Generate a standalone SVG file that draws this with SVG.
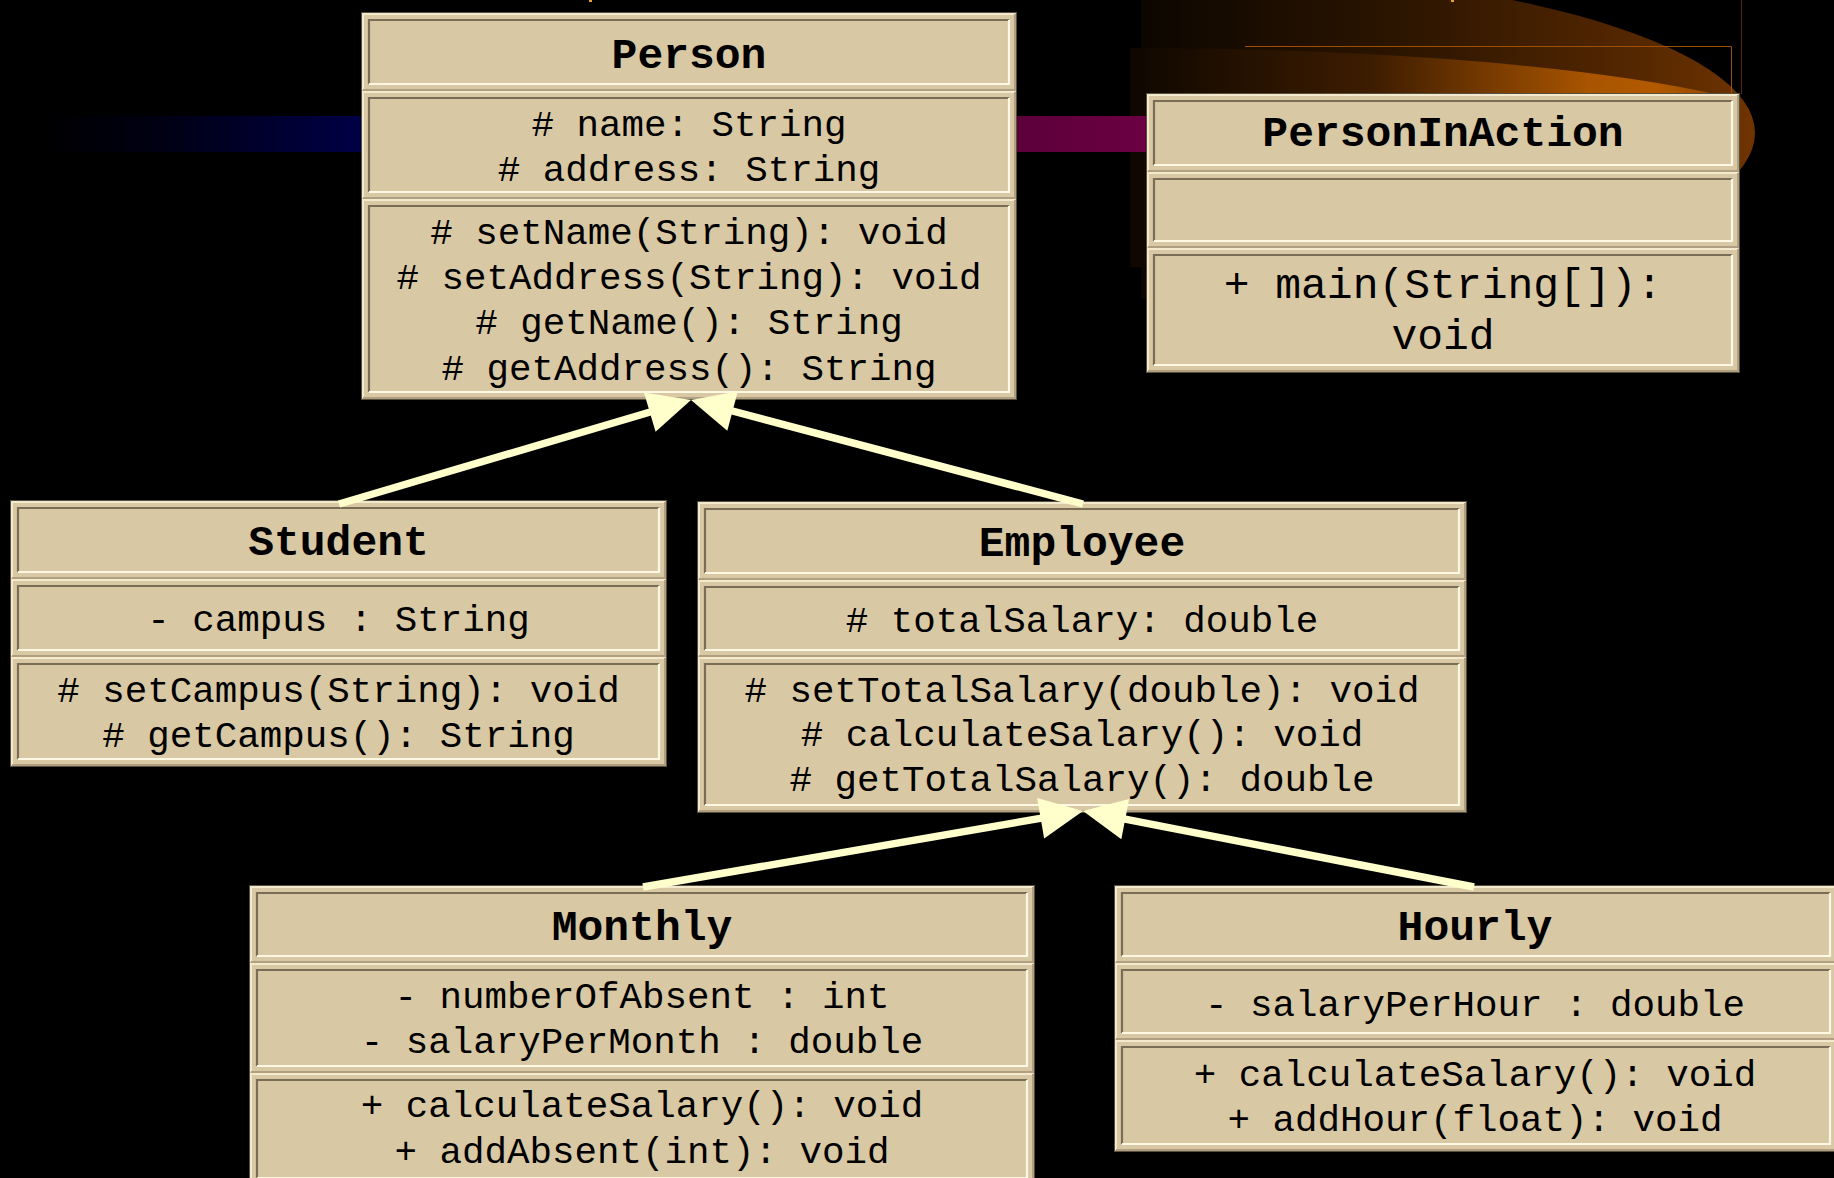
<svg xmlns="http://www.w3.org/2000/svg" width="1834" height="1178" viewBox="0 0 1834 1178">
  <defs>
    <linearGradient id="gBlue" gradientUnits="userSpaceOnUse" x1="40" y1="0" x2="362" y2="0">
      <stop offset="0" stop-color="#000000"/>
      <stop offset="0.35" stop-color="#000012"/>
      <stop offset="1" stop-color="#000046"/>
    </linearGradient>
    <linearGradient id="gMaroon" gradientUnits="userSpaceOnUse" x1="1016" y1="0" x2="1147" y2="0">
      <stop offset="0" stop-color="#5c003a"/>
      <stop offset="1" stop-color="#6c0042"/>
    </linearGradient>
    <linearGradient id="gArcOuter" gradientUnits="userSpaceOnUse" x1="1141" y1="0" x2="1755" y2="0">
      <stop offset="0" stop-color="#0c0600"/>
      <stop offset="0.45" stop-color="#2e1600"/>
      <stop offset="0.8" stop-color="#542700"/>
      <stop offset="1" stop-color="#703400"/>
    </linearGradient>
    <linearGradient id="gArcInner" gradientUnits="userSpaceOnUse" x1="1130" y1="0" x2="1741" y2="0">
      <stop offset="0" stop-color="#0e0700"/>
      <stop offset="0.4" stop-color="#3e1d00"/>
      <stop offset="0.75" stop-color="#a85400"/>
      <stop offset="0.86" stop-color="#b25a00"/>
      <stop offset="1" stop-color="#8a4200"/>
    </linearGradient>
    <clipPath id="clipArc">
      <rect x="1141" y="-40" width="700" height="340"/>
    </clipPath>
    <marker id="tri" markerUnits="userSpaceOnUse" markerWidth="46" markerHeight="44" viewBox="0 -22 46 44" refX="4" refY="0" orient="auto" overflow="visible">
      <path d="M0,-20.5 L43,0 L0,20.5 Z" fill="#FFFFCC"/>
    </marker>
    <style>
      .f { fill: #D9C8A4; }
      .box { fill: none; stroke: #574f3e; stroke-width: 1; }
      .ol { fill: none; stroke: #F3E9CD; stroke-width: 2; }
      .od { fill: none; stroke: #B09F80; stroke-width: 2; }
      .id { fill: none; stroke: #7A6D57; stroke-width: 2.2; }
      .il { fill: none; stroke: #FFF8E4; stroke-width: 2.2; }
      text { font-family: "Liberation Mono", "Courier New", monospace; text-anchor: middle; fill: #000000; }
      .t { font-size: 43px; font-weight: bold; }
      .m { font-size: 37.5px; }
      .m2 { font-size: 43px; }
      .edge { stroke: #FFFFCC; stroke-width: 7.5; fill: none; marker-end: url(#tri); }
    </style>
  </defs>

  <!-- background -->
  <rect x="0" y="0" width="1834" height="1178" fill="#000000"/>

  <!-- slide decoration: orange arcs, colour bars -->
  <g id="decor">
    <ellipse cx="1150" cy="133" rx="605" ry="166" fill="url(#gArcOuter)" clip-path="url(#clipArc)"/>
    <path d="M1130,48 A700,102 0 0 1 1738,99.5 L1738,267 L1130,267 Z" fill="url(#gArcInner)"/>
    <path d="M1245,46.5 H1731.5 V94" fill="none" stroke="#a04e00" stroke-width="1"/>
    <line x1="1741.5" y1="0" x2="1741.5" y2="94" stroke="#5a2800" stroke-width="1"/>
    <rect x="589" y="0" width="3" height="2" fill="#e8a030"/>
    <rect x="1451" y="0" width="3" height="2" fill="#e8a030"/>
    <rect x="40" y="116" width="322" height="36" fill="url(#gBlue)"/>
    <rect x="1016" y="116" width="131" height="36" fill="url(#gMaroon)"/>
  </g>

  <!-- Person -->
  <g id="person">
    <rect class="f" x="362" y="13" width="654" height="386"/>
    <path class="ol" d="M363,90V14H1015"/><path class="od" d="M1015,14V90H363"/>
    <path class="id" d="M369,84V20H1009"/><path class="il" d="M1009,20V84H369"/>
    <path class="ol" d="M363,198V92H1015"/><path class="od" d="M1015,92V198H363"/>
    <path class="id" d="M369,192V98H1009"/><path class="il" d="M1009,98V192H369"/>
    <path class="ol" d="M363,398V200H1015"/><path class="od" d="M1015,200V398H363"/>
    <path class="id" d="M369,392V206H1009"/><path class="il" d="M1009,206V392H369"/>
    <rect class="box" x="361.5" y="12.5" width="655" height="387"/>
    <text class="t" x="689" y="67.5">Person</text>
    <text class="m" x="689" y="135.5"># name: String</text>
    <text class="m" x="689" y="181"># address: String</text>
    <text class="m" x="689" y="243.5"># setName(String): void</text>
    <text class="m" x="689" y="289"># setAddress(String): void</text>
    <text class="m" x="689" y="334"># getName(): String</text>
    <text class="m" x="689" y="379.5"># getAddress(): String</text>
  </g>

  <!-- PersonInAction -->
  <g id="personInAction">
    <rect class="f" x="1147" y="94" width="592" height="278"/>
    <path class="ol" d="M1148,171V95H1738"/><path class="od" d="M1738,95V171H1148"/>
    <path class="id" d="M1154,165V101H1732"/><path class="il" d="M1732,101V165H1154"/>
    <path class="ol" d="M1148,247V173H1738"/><path class="od" d="M1738,173V247H1148"/>
    <path class="id" d="M1154,241V179H1732"/><path class="il" d="M1732,179V241H1154"/>
    <path class="ol" d="M1148,371V249H1738"/><path class="od" d="M1738,249V371H1148"/>
    <path class="id" d="M1154,365V255H1732"/><path class="il" d="M1732,255V365H1154"/>
    <rect class="box" x="1146.5" y="93.5" width="593" height="279"/>
    <text class="t" x="1443" y="146">PersonInAction</text>
    <text class="m2" x="1443" y="298">+ main(String[]):</text>
    <text class="m2" x="1443" y="349">void</text>
  </g>

  <!-- Student -->
  <g id="student">
    <rect class="f" x="11" y="501" width="655" height="265"/>
    <path class="ol" d="M12,578V502H665"/><path class="od" d="M665,502V578H12"/>
    <path class="id" d="M18,572V508H659"/><path class="il" d="M659,508V572H18"/>
    <path class="ol" d="M12,656V580H665"/><path class="od" d="M665,580V656H12"/>
    <path class="id" d="M18,650V586H659"/><path class="il" d="M659,586V650H18"/>
    <path class="ol" d="M12,765V658H665"/><path class="od" d="M665,658V765H12"/>
    <path class="id" d="M18,759V664H659"/><path class="il" d="M659,664V759H18"/>
    <rect class="box" x="10.5" y="500.5" width="656" height="266"/>
    <text class="t" x="338.5" y="554.5">Student</text>
    <text class="m" x="338.5" y="631">- campus : String</text>
    <text class="m" x="338.5" y="702"># setCampus(String): void</text>
    <text class="m" x="338.5" y="746.5"># getCampus(): String</text>
  </g>

  <!-- Employee -->
  <g id="employee">
    <rect class="f" x="698" y="502" width="768" height="310"/>
    <path class="ol" d="M699,579V503H1465"/><path class="od" d="M1465,503V579H699"/>
    <path class="id" d="M705,573V509H1459"/><path class="il" d="M1459,509V573H705"/>
    <path class="ol" d="M699,656V581H1465"/><path class="od" d="M1465,581V656H699"/>
    <path class="id" d="M705,650V587H1459"/><path class="il" d="M1459,587V650H705"/>
    <path class="ol" d="M699,811V658H1465"/><path class="od" d="M1465,658V811H699"/>
    <path class="id" d="M705,805V664H1459"/><path class="il" d="M1459,664V805H705"/>
    <rect class="box" x="697.5" y="501.5" width="769" height="311"/>
    <text class="t" x="1082" y="555.5">Employee</text>
    <text class="m" x="1082" y="631.5"># totalSalary: double</text>
    <text class="m" x="1082" y="701.5"># setTotalSalary(double): void</text>
    <text class="m" x="1082" y="746"># calculateSalary(): void</text>
    <text class="m" x="1082" y="790.5"># getTotalSalary(): double</text>
  </g>

  <!-- Monthly -->
  <g id="monthly">
    <rect class="f" x="250" y="886" width="784" height="299"/>
    <path class="ol" d="M251,962V887H1033"/><path class="od" d="M1033,887V962H251"/>
    <path class="id" d="M257,956V893H1027"/><path class="il" d="M1027,893V956H257"/>
    <path class="ol" d="M251,1072V964H1033"/><path class="od" d="M1033,964V1072H251"/>
    <path class="id" d="M257,1066V970H1027"/><path class="il" d="M1027,970V1066H257"/>
    <path class="ol" d="M251,1184V1074H1033"/><path class="od" d="M1033,1074V1184H251"/>
    <path class="id" d="M257,1178V1080H1027"/><path class="il" d="M1027,1080V1178H257"/>
    <rect class="box" x="249.5" y="885.5" width="785" height="300"/>
    <text class="t" x="642" y="939.5">Monthly</text>
    <text class="m" x="642" y="1008">- numberOfAbsent : int</text>
    <text class="m" x="642" y="1053">- salaryPerMonth : double</text>
    <text class="m" x="642" y="1117">+ calculateSalary(): void</text>
    <text class="m" x="642" y="1162.5">+ addAbsent(int): void</text>
  </g>

  <!-- Hourly -->
  <g id="hourly">
    <rect class="f" x="1115" y="886" width="722" height="265"/>
    <path class="ol" d="M1116,962V887H1836"/><path class="od" d="M1836,887V962H1116"/>
    <path class="id" d="M1122,956V893H1830"/><path class="il" d="M1830,893V956H1122"/>
    <path class="ol" d="M1116,1039V964H1836"/><path class="od" d="M1836,964V1039H1116"/>
    <path class="id" d="M1122,1033V970H1830"/><path class="il" d="M1830,970V1033H1122"/>
    <path class="ol" d="M1116,1150V1041H1836"/><path class="od" d="M1836,1041V1150H1116"/>
    <path class="id" d="M1122,1144V1047H1830"/><path class="il" d="M1830,1047V1144H1122"/>
    <rect class="box" x="1114.5" y="885.5" width="723" height="266"/>
    <text class="t" x="1475" y="939.5">Hourly</text>
    <text class="m" x="1475" y="1015.5">- salaryPerHour : double</text>
    <text class="m" x="1475" y="1085.5">+ calculateSalary(): void</text>
    <text class="m" x="1475" y="1131">+ addHour(float): void</text>
  </g>

  <!-- generalisation arrows -->
  <g id="connectors">
    <line class="edge" x1="339" y1="504" x2="653.6" y2="411"/>
    <line class="edge" x1="1083" y1="504" x2="728.7" y2="410"/>
    <line class="edge" x1="643" y1="887" x2="1044.6" y2="817.6"/>
    <line class="edge" x1="1474" y1="887" x2="1121.3" y2="818.4"/>
  </g>
</svg>
